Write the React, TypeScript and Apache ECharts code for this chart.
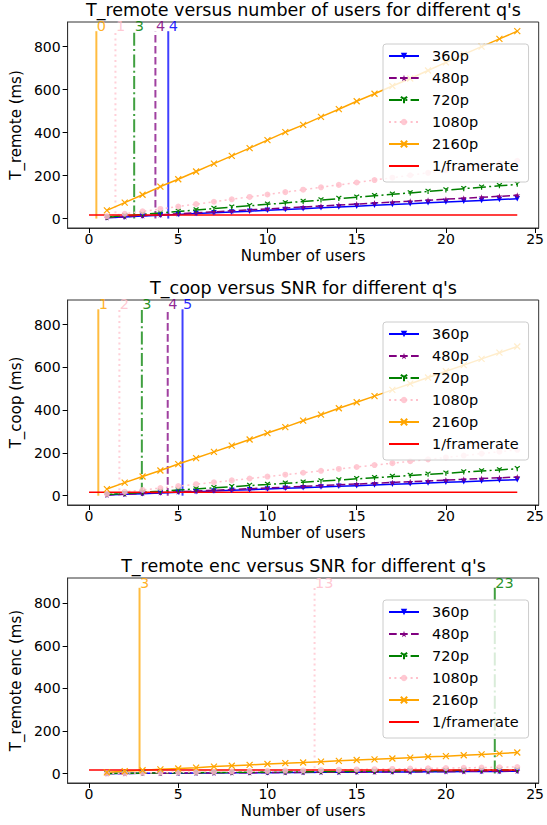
import React, { useEffect, useRef } from 'react';
import * as echarts from 'echarts';

// ---------- data ----------
const users = [1, 2, 3, 4, 5, 6, 7, 8, 9, 10, 11, 12, 13, 14, 15, 16, 17, 18, 19, 20, 21, 22, 23, 24];

const xTicks = [0, 5, 10, 15, 20, 25];
const yTicks = [0, 200, 400, 600, 800];

const framerateX = [0, 24];
const framerateMs = 16.67;

const resolutionNames = ['360p', '480p', '720p', '1080p', '2160p'];
const framerateName = '1/framerate';

// chart 1: T_remote
const remote360 = [3.9, 7.7, 11.6, 15.4, 19.3, 23.1, 27.0, 30.8, 34.7, 38.5, 42.4, 46.2, 50.1, 53.9, 57.8, 61.6, 65.5, 69.3, 73.2, 77.0, 80.9, 84.7, 88.6, 92.4];
const remote480 = [4.5, 9.0, 13.5, 18.0, 22.6, 27.1, 31.6, 36.1, 40.6, 45.1, 49.6, 54.1, 58.6, 63.1, 67.7, 72.2, 76.7, 81.2, 85.7, 90.2, 94.7, 99.2, 103.7, 108.2];
const remote720 = [6.6, 13.3, 19.9, 26.5, 33.2, 39.8, 46.4, 53.1, 59.7, 66.3, 73.0, 79.6, 86.2, 92.9, 99.5, 106.1, 112.8, 119.4, 126.0, 132.7, 139.3, 145.9, 152.6, 159.2];
const remote1080 = [11.2, 22.4, 33.6, 44.8, 56.0, 67.2, 78.4, 89.6, 100.8, 112.0, 123.2, 134.4, 145.6, 156.8, 168.0, 179.2, 190.4, 201.6, 212.8, 224.0, 235.2, 246.4, 257.6, 268.8];
const remote2160 = [38, 74, 111, 149, 183, 219, 256, 292, 328, 365, 402, 436, 473, 509, 546, 581, 617, 652, 689, 727, 764, 800, 836, 872];
const remoteCrossX = [0.41, 1.48, 2.53, 3.72, 4.44];
const remoteCrossRes = ['2160p', '1080p', '720p', '480p', '360p'];
const remoteCrossLabels = ['0', '1', '3', '4', '4'];

// chart 2: T_coop
const coop360 = [3.1, 6.3, 9.4, 12.5, 15.6, 18.8, 21.9, 25.0, 28.1, 31.3, 34.4, 37.5, 40.6, 43.8, 46.9, 50.0, 53.1, 56.3, 59.4, 62.5, 65.6, 68.8, 71.9, 75.0];
const coop480 = [3.6, 7.3, 10.9, 14.6, 18.2, 21.9, 25.5, 29.2, 32.8, 36.5, 40.1, 43.8, 47.4, 51.1, 54.7, 58.4, 62.0, 65.7, 69.3, 73.0, 76.6, 80.3, 83.9, 87.6];
const coop720 = [5.3, 10.5, 15.8, 21.0, 26.3, 31.5, 36.8, 42.0, 47.3, 52.5, 57.8, 63.0, 68.3, 73.5, 78.8, 84.0, 89.3, 94.5, 99.8, 105.0, 110.3, 115.5, 120.8, 126.0];
const coop1080 = [9.0, 17.9, 26.8, 35.8, 44.7, 53.7, 62.6, 71.6, 80.5, 89.5, 98.4, 107.4, 116.3, 125.3, 134.2, 143.2, 152.1, 161.1, 170.0, 179.0, 187.9, 196.9, 205.8, 214.8];
const coop2160 = [31, 61, 90, 118, 148, 176, 205, 234, 263, 293, 321, 351, 379, 409, 437, 466, 495, 524, 553, 582, 611, 640, 669, 698];
const coopCrossX = [0.52, 1.70, 2.96, 4.41, 5.24];
const coopCrossRes = ['2160p', '1080p', '720p', '480p', '360p'];
const coopCrossLabels = ['1', '2', '3', '4', '5'];

// chart 3: T_remote enc
const enc360 = [0.5, 0.9, 1.4, 1.8, 2.3, 2.7, 3.2, 3.6, 4.1, 4.5, 5.0, 5.4, 5.9, 6.3, 6.8, 7.2, 7.7, 8.1, 8.6, 9.0, 9.5, 9.9, 10.4, 10.8];
const enc480 = [0.5, 1.0, 1.5, 2.0, 2.5, 3.0, 3.5, 4.0, 4.5, 5.0, 5.5, 6.0, 6.5, 7.0, 7.5, 8.0, 8.5, 9.0, 9.5, 10.0, 10.5, 11.0, 11.5, 12.0];
const enc720 = [0.7, 1.5, 2.2, 2.9, 3.7, 4.4, 5.1, 5.9, 6.6, 7.3, 8.0, 8.8, 9.5, 10.2, 11.0, 11.7, 12.4, 13.1, 13.9, 14.6, 15.3, 16.1, 16.8, 17.5];
const enc1080 = [1.3, 2.6, 3.9, 5.2, 6.5, 7.8, 9.1, 10.4, 11.7, 13.0, 14.3, 15.6, 16.9, 18.2, 19.5, 20.8, 22.1, 23.4, 24.7, 26.0, 27.3, 28.6, 29.9, 31.2];
const enc2160 = [6, 11, 16, 20, 24, 28, 33, 37, 41, 45, 49, 52, 56, 60, 64, 67, 71, 75, 79, 82, 86, 90, 94, 99];
const encCrossX = [2.83, 12.64, 22.74];
const encCrossRes = ['2160p', '1080p', '720p'];
const encCrossLabels = ['3', '13', '23'];

const crossTop = 872;

const titles = [
  "T_remote versus number of users for different q's",
  "T_coop versus SNR for different q's",
  "T_remote enc versus SNR for different q's",
];
const yNames = ['T_remote (ms)', 'T_coop (ms)', 'T_remote enc (ms)'];
const xName = 'Number of users';

// ---------- styles ----------
const FONT = 'DejaVu Sans';
const resStyle: Record<string, any> = {
  '360p': { color: '#0000ff', type: 'solid', symbol: 'path://M0,0L10,0L5,9Z', size: 5.5, stroke: false },
  '480p': { color: '#800080', type: [7.7, 3.3], symbol: 'path://M5,0L6.2,3.6L10,3.6L6.9,5.8L8.1,9.5L5,7.2L1.9,9.5L3.1,5.8L0,3.6L3.8,3.6Z', size: 6, stroke: false },
  '720p': { color: '#008000', type: [13, 3.3, 2, 3.3], symbol: 'path://M5,5L5,10M5,5L0.7,2.5M5,5L9.3,2.5', size: 5, stroke: true },
  '1080p': { color: '#ffc0cb', type: [2, 3.4], symbol: 'circle', size: 6, stroke: false },
  '2160p': { color: '#ffa500', type: 'solid', symbol: 'path://M0,0L10,10M10,0L0,10', size: 6, stroke: true },
};

const layouts = [
  { top: 22, height: 206, yMin: -43.8, yMax: 914.7, titleTop: 0 },
  { top: 300, height: 205, yMin: -43.5, yMax: 915.5, titleTop: 278 },
  { top: 578, height: 205, yMin: -44, yMax: 918, titleTop: 556 },
];
const GRID_LEFT = 65;
const GRID_WIDTH = 477;

const chartData = [
  { series: [remote360, remote480, remote720, remote1080, remote2160], crossX: remoteCrossX, crossRes: remoteCrossRes, crossLabels: remoteCrossLabels },
  { series: [coop360, coop480, coop720, coop1080, coop2160], crossX: coopCrossX, crossRes: coopCrossRes, crossLabels: coopCrossLabels },
  { series: [enc360, enc480, enc720, enc1080, enc2160], crossX: encCrossX, crossRes: encCrossRes, crossLabels: encCrossLabels },
];

function buildOption() {
  const title: any[] = [];
  const grid: any[] = [];
  const xAxis: any[] = [];
  const yAxis: any[] = [];
  const legend: any[] = [];
  const series: any[] = [];

  chartData.forEach((cd, i) => {
    const L = layouts[i];
    title.push({
      text: titles[i],
      left: GRID_LEFT + GRID_WIDTH / 2,
      top: L.titleTop,
      textAlign: 'center',
      padding: 0,
      textStyle: { fontFamily: FONT, fontSize: 17.5, lineHeight: 19, fontWeight: 'normal', color: '#000' },
    });
    grid.push({
      left: GRID_LEFT, width: GRID_WIDTH, top: L.top, height: L.height,
      show: true, borderColor: '#333', borderWidth: 1, backgroundColor: 'transparent',
    });
    xAxis.push({
      type: 'value', gridIndex: i, min: -1.2, max: 25.2,
      name: xName, nameLocation: 'middle', nameGap: 20,
      nameTextStyle: { fontFamily: FONT, fontSize: 15, color: '#000' },
      axisLine: { show: true, onZero: false, lineStyle: { color: '#333', width: 1 } },
      axisTick: { show: true, length: 5, customValues: xTicks, lineStyle: { color: '#000' } },
      axisLabel: { customValues: xTicks, margin: 4, fontFamily: FONT, fontSize: 14, color: '#000' },
      splitLine: { show: false },
    });
    yAxis.push({
      type: 'value', gridIndex: i, min: L.yMin, max: L.yMax,
      name: yNames[i], nameLocation: 'middle', nameGap: 38, nameRotate: 90,
      nameTextStyle: { fontFamily: FONT, fontSize: 15, color: '#000' },
      axisLine: { show: true, onZero: false, lineStyle: { color: '#333', width: 1 } },
      axisTick: { show: true, length: 5, customValues: yTicks, lineStyle: { color: '#000' } },
      axisLabel: { customValues: yTicks, margin: 7, fontFamily: FONT, fontSize: 14, color: '#000' },
      splitLine: { show: false },
    });
    legend.push({
      orient: 'vertical', left: 383, top: L.top + 22,
      data: [
        ...resolutionNames.map((n) => ({ name: n })),
        { name: framerateName, itemStyle: { color: 'transparent', opacity: 0 } },
      ],
      itemWidth: 30, itemHeight: 8, itemGap: 6,
      padding: [4, 10, 8, 5],
      backgroundColor: 'rgba(255,255,255,0.8)', borderColor: '#cccccc', borderWidth: 1, borderRadius: 3,
      textStyle: { fontFamily: FONT, fontSize: 14.5, color: '#000', lineHeight: 16, padding: [0, 0, 0, 8] },
      selectedMode: false,
    });

    resolutionNames.forEach((rn, k) => {
      const st = resStyle[rn];
      series.push({
        type: 'line', name: rn, xAxisIndex: i, yAxisIndex: i,
        data: users.map((u, j) => [u, cd.series[k][j]]),
        symbol: st.symbol, symbolSize: st.size, showSymbol: true,
        lineStyle: { color: st.color, width: 1.5, type: st.type },
        itemStyle: st.stroke
          ? { color: st.color, borderColor: st.color, borderWidth: 1.2 }
          : { color: st.color, borderWidth: 0, opacity: rn === '1080p' ? 0.85 : 1 },
        z: 3,
      });
    });
    series.push({
      type: 'line', name: framerateName, xAxisIndex: i, yAxisIndex: i,
      data: framerateX.map((x) => [x, framerateMs]),
      symbol: 'none', showSymbol: false,
      lineStyle: { color: '#ff0000', width: 1.5 },
      itemStyle: { color: '#ff0000' },
      z: 3,
    });
    cd.crossX.forEach((cx, k) => {
      const st = resStyle[cd.crossRes[k]];
      series.push({
        type: 'line', name: `cross-${i}-${k}`, xAxisIndex: i, yAxisIndex: i,
        data: [[cx, 0], [cx, crossTop]],
        symbol: 'none', showSymbol: false,
        lineStyle: { color: st.color, width: 2, type: st.type, opacity: 0.75 },
        z: 2,
      });
      series.push({
        type: 'scatter', name: `crosslabel-${i}-${k}`, xAxisIndex: i, yAxisIndex: i,
        data: [[cx, crossTop]],
        symbolSize: 1, itemStyle: { color: 'transparent' },
        label: {
          show: true, formatter: cd.crossLabels[k], position: [0, 0], offset: [1, 1],
          align: 'left', verticalAlign: 'bottom', lineHeight: 11,
          fontFamily: FONT, fontSize: 14.5, color: st.color, opacity: 0.85,
        },
        z: 4,
      });
    });
  });

  return { animation: false, title, grid, xAxis, yAxis, legend, series };
}

export default function App() {
  const ref = useRef<HTMLDivElement>(null);
  useEffect(() => {
    if (!ref.current) return;
    const chart = echarts.init(ref.current, undefined, { renderer: 'svg' });
    chart.setOption(buildOption() as any);
    return () => chart.dispose();
  }, []);
  return <div ref={ref} style={{ width: 547, height: 825, position: 'absolute', left: 0, top: 0, background: '#fff' }} />;
}
